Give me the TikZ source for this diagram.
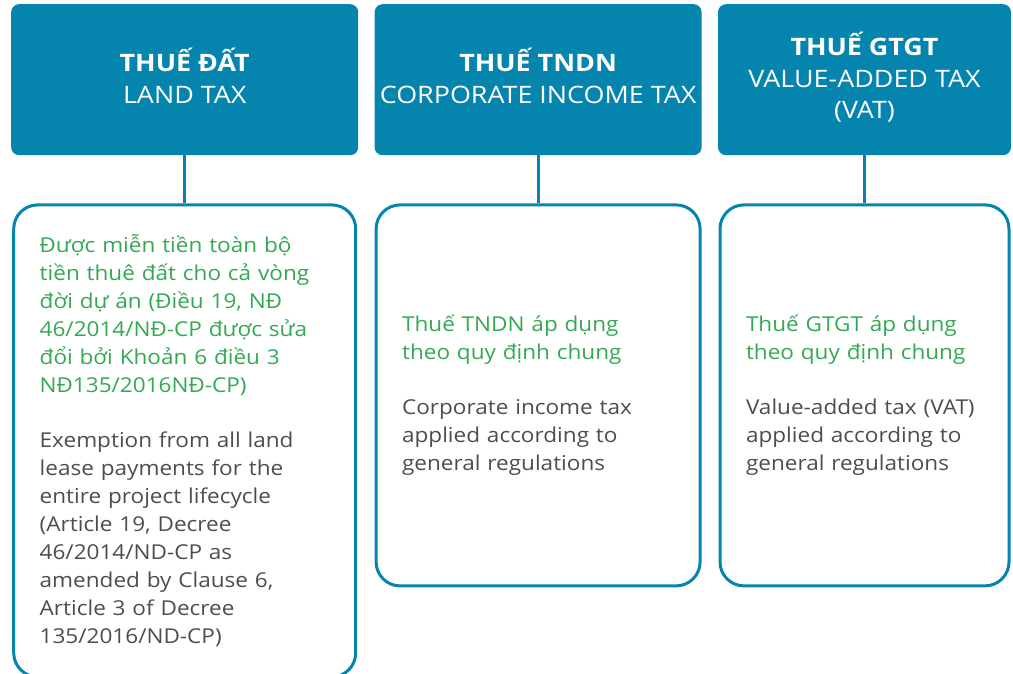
\documentclass[tikz,border=0pt]{standalone}
\usepackage{fontspec}
\setmainfont[FakeStretch=1.1]{Open Sans}
\newfontfamily\headfont[FakeStretch=1.12]{Open Sans}
\usetikzlibrary{positioning}

\definecolor{tealBlue}{HTML}{0585AE}
\definecolor{greenText}{HTML}{34A853}
\definecolor{grayText}{HTML}{4D4D4D}

\begin{document}
\begin{tikzpicture}[
    x=1pt, y=-1pt,
    node distance=48pt and 16pt,
    header/.style={rectangle, rounded corners=8pt, fill=tealBlue, text=white, minimum height=151pt, align=center, inner sep=0pt, text depth=8pt, font=\headfont\fontsize{24}{31.5}\selectfont},
    panel/.style={rectangle, draw=tealBlue, line width=3pt, rounded corners=24pt, align=left, inner xsep=26pt, text=grayText, font=\fontsize{20.5}{28}\selectfont},
    link/.style={draw=tealBlue, line width=3pt}
  ]
  \useasboundingbox (0,0) rectangle (1013,674);

  % ---------------- Encabezados ----------------
  \node (headLand) [header, minimum width=347pt, anchor=north west] at (11,4) {\textbf{THUẾ ĐẤT}\\LAND TAX};
  \node (headCit) [header, minimum width=327pt, right=of headLand] {\textbf{THUẾ TNDN}\\CORPORATE INCOME TAX};
  \node (headVat) [header, minimum width=293pt, right=of headCit] {\textbf{THUẾ GTGT}\\VALUE-ADDED TAX\\(VAT)};

  % ---------------- Recuadros de detalle ----------------
  \node (bodyLand) [panel, minimum width=342pt, minimum height=472pt, text width=290pt, below=of headLand] {
    \color{greenText}Được miễn tiền toàn bộ\\
    tiền thuê đất cho cả vòng\\
    đời dự án (Điều 19, NĐ\\
    46/2014/NĐ-CP được sửa\\
    đổi bởi Khoản 6 điều 3\\
    NĐ135/2016NĐ-CP)\\[27pt]
    \color{grayText}Exemption from all land\\
    lease payments for the\\
    entire project lifecycle\\
    (Article 19, Decree\\
    46/2014/ND-CP as\\
    amended by Clause 6,\\
    Article 3 of Decree\\
    135/2016/ND-CP)
  };
  \node (bodyCit) [panel, minimum width=324pt, minimum height=381pt, text width=272pt, below=of headCit] {
    \color{greenText}Thuế TNDN áp dụng\\
    theo quy định chung\\[27pt]
    \color{grayText}Corporate income tax\\
    applied according to\\
    general regulations
  };
  \node (bodyVat) [panel, minimum width=289pt, minimum height=381pt, text width=237pt, below=of headVat] {
    \color{greenText}Thuế GTGT áp dụng\\
    theo quy định chung\\[27pt]
    \color{grayText}Value-added tax (VAT)\\
    applied according to\\
    general regulations
  };

  % Conectores
  \draw [link] (headLand) -- (bodyLand);
  \draw [link] (headCit) -- (bodyCit);
  \draw [link] (headVat) -- (bodyVat);

\end{tikzpicture}
\end{document}
